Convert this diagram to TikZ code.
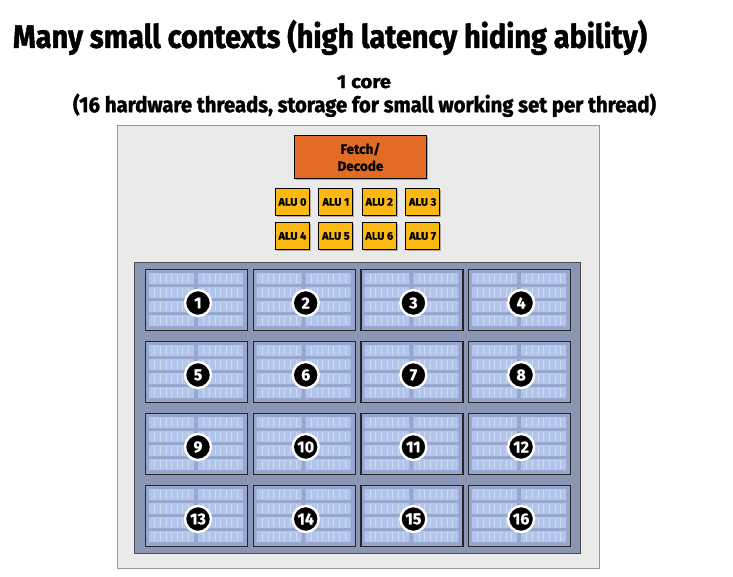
\documentclass[tikz,border=0pt]{standalone}
\usepackage{fontspec}
\setmainfont{Fira Sans}
\usetikzlibrary{shadows}
\newcommand{\heavyfont}{\bfseries\addfontfeatures{FakeBold=1.6}}
\newcommand{\midfont}{\bfseries\addfontfeatures{FakeBold=0.8}}
\definecolor{bgbox}{RGB}{234,234,234}
\definecolor{bgline}{RGB}{150,150,150}
\definecolor{fetchc}{RGB}{227,108,36}
\definecolor{aluc}{RGB}{253,185,19}
\definecolor{panelc}{RGB}{138,150,180}
\definecolor{ctxc}{RGB}{150,166,206}
\definecolor{cellc}{RGB}{180,197,235}
\definecolor{celll}{RGB}{207,218,243}
\begin{document}
\begin{tikzpicture}[x=1pt,y=-1pt,
  txt/.style={inner sep=0pt, outer sep=0pt},
  fetchbox/.style={draw=black, line width=0.9pt, fill=fetchc, minimum width=132pt, minimum height=43pt, inner sep=0pt, align=center,
    font=\fontsize{13.5}{17}\selectfont\midfont,
    drop shadow={shadow xshift=1.3pt, shadow yshift=-1.3pt, opacity=0.6}},
  alubox/.style={draw=black, line width=0.9pt, fill=aluc, minimum width=34pt, minimum height=27pt, inner sep=0pt,
    font=\fontsize{11}{11}\selectfont\midfont,
    drop shadow={shadow xshift=1.3pt, shadow yshift=-1.3pt, opacity=0.6}},
  ctxbox/.style={draw=black!85, line width=1.3pt, fill=ctxc, minimum width=102pt, minimum height=61pt, inner sep=0pt},
  numc/.style={circle, fill=black, draw=white, line width=2.4pt, minimum size=26pt, inner sep=0pt, text=white,
    font=\fontsize{16}{16}\selectfont\midfont},
  cellrow/.style={fill=cellc, rounded corners=0.8pt},
  cellsep/.style={draw=celll, line width=0.7pt}
]
\useasboundingbox (0,0) rectangle (733,576);
\fill[white] (0,0) rectangle (733,576);

% titles
\node[txt, anchor=north west] (title) at (13,20)
  {\resizebox*{634pt}{35pt}{\heavyfont Many small contexts (high latency hiding ability)}};
\node[txt, anchor=base west] (core) at (337,88)
  {\resizebox{54pt}{12.5pt}{\heavyfont 1 core}};
\node[txt, anchor=north west] (sub) at (73,93.7)
  {\resizebox*{583pt}{23.3pt}{\heavyfont (16 hardware threads, storage for small working set per thread)}};

% core box
\draw[fill=bgbox, draw=bgline, line width=0.9pt] (117,125) rectangle (599,568);

% fetch/decode
\node[fetchbox, anchor=north west] (fetch) at (294,135) {Fetch/\\Decode};

% ALUs
\foreach \i in {0,...,7} {
  \pgfmathtruncatemacro\ac{mod(\i,4)}
  \pgfmathtruncatemacro\ar{div(\i,4)}
  \pgfmathsetmacro\ax{275+43.4*\ac}
  \pgfmathsetmacro\ay{188+34*\ar}
  \node[alubox, anchor=north west] (alu\i) at (\ax,\ay) {ALU \i};
}

% context panel
\draw[fill=panelc, draw=black!70, line width=0.9pt,
  drop shadow={shadow xshift=1pt, shadow yshift=-1pt, opacity=0.4}] (134,262) rectangle (580,553);

\foreach \i in {1,...,16} {
  \pgfmathtruncatemacro\cc{mod(\i-1,4)}
  \pgfmathtruncatemacro\cr{div(\i-1,4)}
  \pgfmathsetmacro\L{145+107.7*\cc}
  \pgfmathsetmacro\T{269+72*\cr}
  \node[ctxbox, anchor=north west] (ctx\i) at (\L,\T) {};
  \foreach \h in {0,1} {
    \foreach \r in {0,...,3} {
      \pgfmathsetmacro\hx{\L+4+49*\h}
      \pgfmathsetmacro\ry{\T+4+14*\r}
      \fill[cellrow] (\hx,\ry) rectangle ++(45,11);
      \foreach \c in {1,...,7} {
        \draw[cellsep] (\hx+\c*5.625,\ry+1) -- ++(0,9);
      }
    }
  }
  \pgfmathsetmacro\cx{\L+53}
  \pgfmathsetmacro\cy{\T+34}
  \node[numc] (n\i) at (\cx,\cy) {\i};
}
\end{tikzpicture}
\end{document}
